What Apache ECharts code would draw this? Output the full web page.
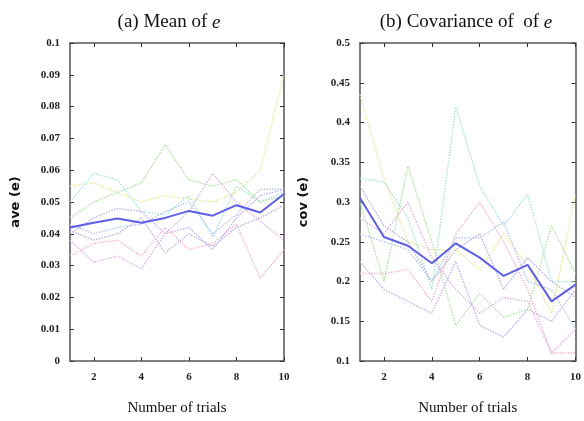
<!DOCTYPE html>
<html>
<head>
<meta charset="utf-8">
<script src="https://cdn.jsdelivr.net/npm/echarts@6/dist/echarts.min.js"></script>
<style>
  html, body { margin: 0; padding: 0; background: #fff; }
  #chart { width: 584px; height: 421px; }
</style>
</head>
<body>
<div id="chart"></div>
<script>
// trials on the x axis
var trials = [1, 2, 3, 4, 5, 6, 7, 8, 9, 10];
var xTicks = [2, 4, 6, 8, 10];

// (a) mean of e : average (solid) and single runs (dotted)
var meanAvg = [0.042, 0.0435, 0.0448, 0.0435, 0.045, 0.0472, 0.0457, 0.049, 0.0467, 0.0525];
var meanRuns = [
  [0.055, 0.056, 0.053, 0.050, 0.052, 0.051, 0.050, 0.053, 0.060, 0.090],
  [0.050, 0.059, 0.057, 0.047, 0.046, 0.052, 0.039, 0.055, 0.050, 0.053],
  [0.045, 0.050, 0.053, 0.056, 0.068, 0.057, 0.055, 0.057, 0.050, 0.052],
  [0.040, 0.045, 0.048, 0.047, 0.040, 0.042, 0.035, 0.045, 0.052, 0.054],
  [0.033, 0.037, 0.038, 0.033, 0.042, 0.035, 0.037, 0.043, 0.026, 0.035],
  [0.038, 0.031, 0.033, 0.029, 0.040, 0.047, 0.059, 0.050, 0.044, 0.038],
  [0.041, 0.038, 0.040, 0.045, 0.034, 0.040, 0.036, 0.042, 0.045, 0.049],
  [0.043, 0.040, 0.042, 0.043, 0.047, 0.050, 0.040, 0.046, 0.054, 0.054]
];

// (b) covariance of e
var covAvg = [0.305, 0.256, 0.245, 0.223, 0.248, 0.230, 0.207, 0.221, 0.175, 0.196];
var covRuns = [
  [0.435, 0.330, 0.250, 0.240, 0.240, 0.215, 0.260, 0.220, 0.160, 0.310],
  [0.330, 0.325, 0.280, 0.190, 0.420, 0.320, 0.270, 0.310, 0.200, 0.200],
  [0.300, 0.200, 0.345, 0.250, 0.145, 0.185, 0.155, 0.165, 0.270, 0.210],
  [0.225, 0.190, 0.175, 0.160, 0.225, 0.145, 0.130, 0.165, 0.150, 0.190],
  [0.210, 0.210, 0.215, 0.175, 0.260, 0.300, 0.250, 0.190, 0.110, 0.110],
  [0.280, 0.260, 0.300, 0.230, 0.190, 0.160, 0.180, 0.175, 0.110, 0.140],
  [0.320, 0.270, 0.250, 0.200, 0.240, 0.260, 0.190, 0.230, 0.200, 0.180],
  [0.260, 0.250, 0.240, 0.200, 0.255, 0.255, 0.275, 0.200, 0.190, 0.140]
];

var runColors = ['#e8e890', '#a6e2d8', '#addfa0', '#c0acea', '#f0b2cc', '#dcb0e6', '#b6b0e0', '#b0c4f2'];

var serif = 'Liberation Serif';
var axisCol = '#555';

function xAxes(gi) {
  var base = {
    type: 'value', gridIndex: gi, min: 1, max: 10,
    axisLine: { show: true, onZero: false, lineStyle: { color: axisCol, width: 1.5 } },
    axisTick: { show: true, inside: true, length: 4, customValues: xTicks, lineStyle: { color: '#333' } },
    splitLine: { show: false }
  };
  var bottom = Object.assign({}, base, {
    position: 'bottom',
    name: 'Number of trials', nameLocation: 'middle', nameGap: 40,
    nameTextStyle: { fontFamily: serif, fontSize: 15, color: '#111' },
    axisLabel: { customValues: xTicks, fontFamily: serif, fontWeight: 'bold', fontSize: 11, color: '#222', margin: 11 }
  });
  var top = Object.assign({}, base, { position: 'top', axisLabel: { show: false } });
  return [bottom, top];
}

function yAxes(gi, min, max, step, name, gap) {
  var base = {
    type: 'value', gridIndex: gi, min: min, max: max, interval: step,
    axisLine: { show: true, onZero: false, lineStyle: { color: axisCol, width: 1.5 } },
    axisTick: { show: true, inside: true, length: 4, lineStyle: { color: '#333' } },
    splitLine: { show: false }
  };
  var left = Object.assign({}, base, {
    position: 'left',
    name: name, nameLocation: 'middle', nameGap: gap, nameRotate: 90,
    nameTextStyle: { fontFamily: 'DejaVu Sans', fontWeight: 'bold', fontSize: 13, color: '#111' },
    axisLabel: {
      fontFamily: serif, fontWeight: 'bold', fontSize: 11, color: '#222', margin: 10,
      formatter: function (v) { return String(+v.toFixed(3)); }
    }
  });
  var right = Object.assign({}, base, { position: 'right', axisLabel: { show: false } });
  return [left, right];
}

function seriesFor(gi, avg, runs) {
  var out = [];
  runs.forEach(function (r, i) {
    out.push({
      type: 'line', xAxisIndex: gi * 2, yAxisIndex: gi * 2, showSymbol: false,
      data: trials.map(function (t, k) { return [t, r[k]]; }),
      lineStyle: { type: 'dotted', width: 1.4, color: runColors[i] },
      silent: true
    });
  });
  out.push({
    type: 'line', xAxisIndex: gi * 2, yAxisIndex: gi * 2, showSymbol: false,
    data: trials.map(function (t, k) { return [t, avg[k]]; }),
    lineStyle: { width: 2, color: '#5e5ee6' },
    z: 5
  });
  return out;
}

function titleText(txt) {
  return {
    rich: {
      n: { fontFamily: serif, fontSize: 19, fontWeight: 'normal', color: '#111' },
      i: { fontFamily: serif, fontSize: 19, fontWeight: 'normal', fontStyle: 'italic', color: '#111' }
    }
  };
}

var chart = echarts.init(document.getElementById('chart'), null, { renderer: 'canvas' });
var option = {
  backgroundColor: '#fff',
  animation: false,
  title: [
    { text: '{n|(a) Mean of }{i|e}', left: 164, top: 8, textAlign: 'center', textStyle: titleText() },
    { text: '{n|(b) Covariance of  of }{i|e}', left: 461, top: 8, textAlign: 'center', textStyle: titleText() }
  ],
  grid: [
    { left: 70, top: 43, width: 214, height: 325 },
    { left: 360, top: 43, width: 217, height: 324 }
  ],
  xAxis: xAxes(0).concat(xAxes(1)),
  yAxis: yAxes(0, 0, 0.1, 0.01, 'ave (e)', 48).concat(yAxes(1, 0.1, 0.5, 0.05, 'cov (e)', 50)),
  series: seriesFor(0, meanAvg, meanRuns).concat(seriesFor(1, covAvg, covRuns))
};
chart.setOption(option);
</script>
</body>
</html>
